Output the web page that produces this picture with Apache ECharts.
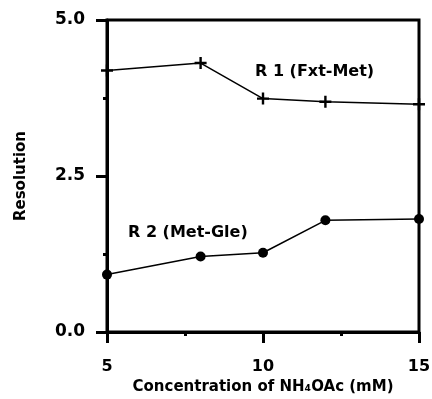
<!DOCTYPE html>
<html><head><meta charset="utf-8">
<script src="https://cdn.jsdelivr.net/npm/echarts@6/dist/echarts.min.js"></script>
<style>html,body{margin:0;padding:0;background:#fff}#c{width:432px;height:399px}</style>
</head><body><div id="c"></div>
<script>
var concentrations = [5, 8, 10, 12, 15];
var r1Values = [4.19, 4.31, 3.74, 3.69, 3.65];
var r2Values = [0.92, 1.21, 1.27, 1.79, 1.81];
var yTicks = [0, 2.5, 5];
var xTicks = [5, 10, 15];
var FONT = '"DejaVu Sans", sans-serif';
function pairs(xs, ys){ return xs.map(function(x,i){ return [x, ys[i]]; }); }
var chart = echarts.init(document.getElementById('c'));
chart.setOption({
  animation: false,
  backgroundColor: '#fff',
  grid: { left: 107, right: 13, top: 20, bottom: 67, containLabel: false, outerBoundsMode: 'none',
    show: true, borderColor: '#000', borderWidth: 3, backgroundColor: 'transparent' },
  xAxis: {
    type: 'value', min: xTicks[0], max: xTicks[xTicks.length-1], interval: 5,
    axisLine: { show: true, lineStyle: { color: '#000', width: 3 } },
    axisTick: { show: true, inside: false, length: 11, lineStyle: { color: '#000', width: 3 } },
    minorTick: { show: true, splitNumber: 2, length: 4, lineStyle: { color: '#000', width: 3 } },
    splitLine: { show: false },
    axisLabel: { color: '#000', fontFamily: FONT, fontWeight: 'bold', fontSize: 16, margin: 27 },
    name: 'Concentration of NH\u2084OAc (mM)', nameLocation: 'middle', nameGap: 47,
    nameTextStyle: { color: '#000', fontFamily: FONT, fontWeight: 'bold', fontSize: 15 }
  },
  yAxis: {
    type: 'value', min: yTicks[0], max: yTicks[yTicks.length-1], interval: 2.5,
    axisLine: { show: true, lineStyle: { color: '#000', width: 3 } },
    axisTick: { show: true, inside: false, length: 11, lineStyle: { color: '#000', width: 3 } },
    minorTick: { show: true, splitNumber: 2, length: 4, lineStyle: { color: '#000', width: 3 } },
    splitLine: { show: false },
    axisLabel: { color: '#000', fontFamily: FONT, fontWeight: 'bold', fontSize: 17, margin: 22,
      formatter: function(v){ return v.toFixed(1); } },
    name: 'Resolution', nameLocation: 'middle', nameGap: 78,
    nameTextStyle: { color: '#000', fontFamily: FONT, fontWeight: 'bold', fontSize: 15 }
  },
  series: [
    { name: 'R 1 (Fxt-Met)', type: 'line', data: pairs(concentrations, r1Values),
      symbol: 'path://M4,0h2v4h4v2h-4v4h-2v-4h-4v-2h4z', symbolSize: [12, 12], showAllSymbol: true,
      lineStyle: { color: '#000', width: 1.5 }, itemStyle: { color: '#000' } },
    { name: 'R 2 (Met-Gle)', type: 'line', data: pairs(concentrations, r2Values),
      symbol: 'circle', symbolSize: 10, showAllSymbol: true,
      lineStyle: { color: '#000', width: 1.5 }, itemStyle: { color: '#000' } }
  ],
  graphic: [
    { type: 'text', left: 255, top: 64, style: { text: 'R 1 (Fxt-Met)', fill: '#000', font: 'bold 16px ' + FONT } },
    { type: 'text', left: 128, top: 225, style: { text: 'R 2 (Met-Gle)', fill: '#000', font: 'bold 16px ' + FONT } }
  ]
});
</script></body></html>
